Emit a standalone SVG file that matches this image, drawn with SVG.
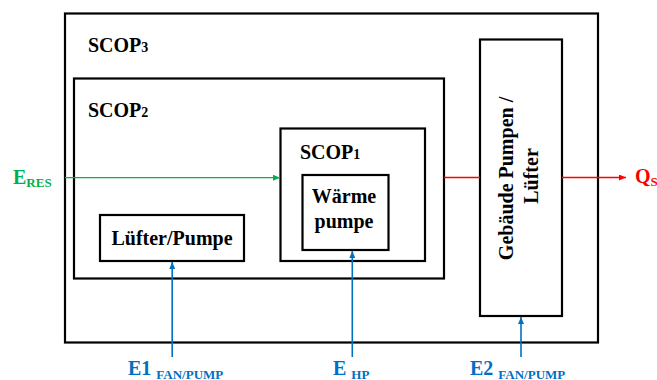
<svg xmlns="http://www.w3.org/2000/svg" width="657" height="380" viewBox="0 0 657 380">
  <defs>
    <style>
      .box { fill: #ffffff; stroke: #000000; stroke-width: 2.2; }
      text { font-family: 'Liberation Serif', 'DejaVu Serif', serif; font-weight: bold; fill: #000000; font-size: 20px; }
      .s { font-size: 14px; }
      .sub { font-size: 13px; }
      .g { fill: #00B050; }
      .r { fill: #FF0000; }
      .b { fill: #0070C0; }
    </style>
    <marker id="ag" markerWidth="7" markerHeight="6" refX="7" refY="3" orient="auto" markerUnits="userSpaceOnUse">
      <path d="M0,0 L7,3 L0,6 Z" fill="#00B050"/>
    </marker>
    <marker id="ar" markerWidth="7" markerHeight="6" refX="7" refY="3" orient="auto" markerUnits="userSpaceOnUse">
      <path d="M0,0 L7,3 L0,6 Z" fill="#FF0000"/>
    </marker>
    <marker id="ab" markerWidth="7" markerHeight="6" refX="7" refY="3" orient="auto" markerUnits="userSpaceOnUse">
      <path d="M0,0 L7,3 L0,6 Z" fill="#0070C0"/>
    </marker>
  </defs>

  <g id="scop3">
    <rect class="box" x="65" y="13.5" width="533" height="329"/>
    <text font-family="Liberation Serif, serif" x="88" y="52">SCOP<tspan class="s">3</tspan></text>
  </g>

  <g id="gebaeude">
    <rect class="box" x="480" y="39.5" width="82" height="276.5"/>
    <text text-anchor="middle" transform="translate(513,176) rotate(-90)">
      <tspan x="0" y="0">Gebäude Pumpen /</tspan>
      <tspan x="0" y="25">Lüfter</tspan>
    </text>
  </g>

  <g id="scop2">
    <rect class="box" x="74" y="78.5" width="370" height="200"/>
    <text x="88" y="117">SCOP<tspan class="s">2</tspan></text>
  </g>

  <g id="scop1">
    <rect class="box" x="280.5" y="128.5" width="144.5" height="132.5"/>
    <text x="300" y="159">SCOP<tspan class="s">1</tspan></text>
  </g>

  <g id="waermepumpe">
    <rect class="box" x="302.5" y="175" width="86" height="75"/>
    <text text-anchor="middle" x="344" y="203">Wärme</text>
    <text text-anchor="middle" x="344" y="228">pumpe</text>
  </g>

  <g id="luefterpumpe">
    <rect class="box" x="100" y="215" width="144" height="46"/>
    <text text-anchor="middle" x="172" y="245">Lüfter/Pumpe</text>
  </g>

  <g id="connectors" fill="none" stroke-width="1.3">
    <line x1="65" y1="177.7" x2="280" y2="177.7" stroke="#00B050" marker-end="url(#ag)"/>
    <line x1="444" y1="177.5" x2="480" y2="177.5" stroke="#FF0000"/>
    <line x1="562" y1="177.5" x2="626" y2="177.5" stroke="#FF0000" marker-end="url(#ar)"/>
    <line x1="172.2" y1="357" x2="172.2" y2="262" stroke="#0070C0" stroke-width="1.6" marker-end="url(#ab)"/>
    <line x1="352.3" y1="357" x2="352.3" y2="251" stroke="#0070C0" stroke-width="1.6" marker-end="url(#ab)"/>
    <line x1="521" y1="357" x2="521" y2="317" stroke="#0070C0" stroke-width="1.6" marker-end="url(#ab)"/>
  </g>

  <g id="labels">
    <text class="g" x="13" y="184">E<tspan class="sub" dy="2.5">RES</tspan></text>
    <text class="r" x="635" y="183">Q<tspan class="sub" dy="3">S</tspan></text>
    <text class="b" x="128" y="375">E1 <tspan class="sub" dy="3.5">FAN/PUMP</tspan></text>
    <text class="b" x="333" y="375">E <tspan class="sub" dy="3.5">HP</tspan></text>
    <text class="b" x="470" y="375">E2 <tspan class="sub" dy="3.5">FAN/PUMP</tspan></text>
  </g>
</svg>
